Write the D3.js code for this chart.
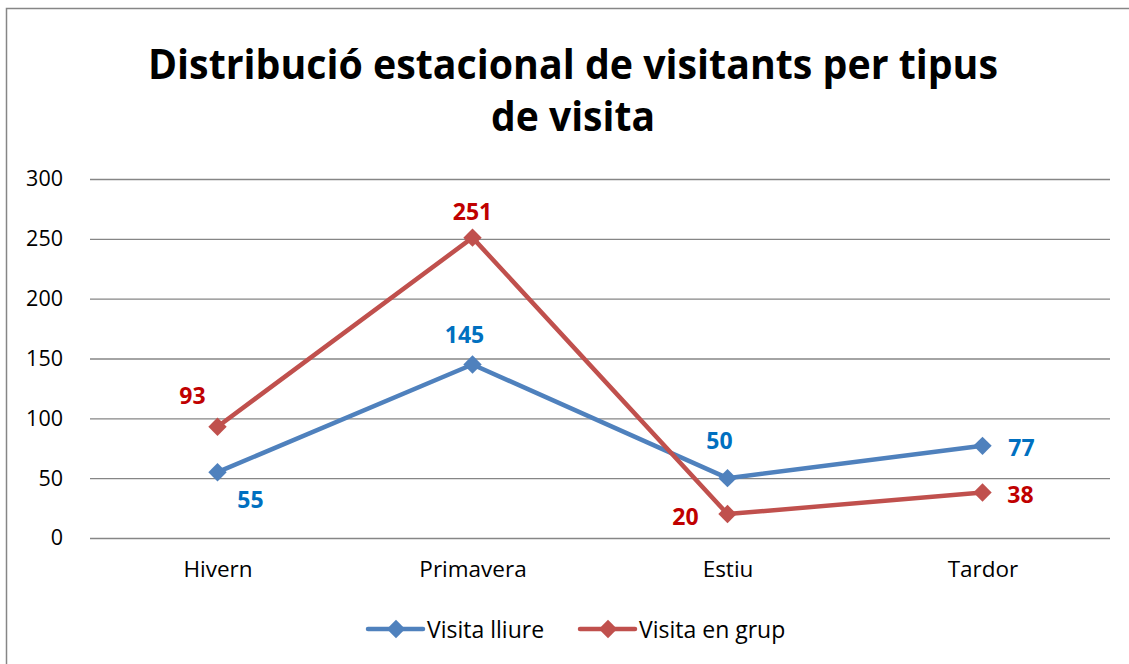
<!DOCTYPE html>
<html><head><meta charset="utf-8">
<script src="https://cdn.jsdelivr.net/npm/d3@7"></script>
<style>
html,body{margin:0;padding:0;background:#fff;}
svg{display:block;font-family:"Open Sans",sans-serif;}
</style></head>
<body><svg id="c" width="1129" height="664"></svg>
<script>
const categories = ["Hivern","Primavera","Estiu","Tardor"];
const seriesNames = ["Visita lliure","Visita en grup"];
const lliure = [55,145,50,77];
const grup = [93,251,20,38];
const yTicks = [0,50,100,150,200,250,300];
const titleLines = ["Distribució estacional de visitants per tipus","de visita"];

const lineColors = ["#4F81BD","#C0504D"];
const labelColors = ["#0070C0","#C00000"];
// label placement per point: [dx, dy]
const labelPos = [
  [[33,27],[-8,-30],[-8,-38],[39,1]],
  [[-25,-32],[0,-27],[-42,2],[38,1]]
];

const svg = d3.select("#c");
svg.append("rect").attr("x",6.5).attr("y",8.5).attr("width",1140).attr("height",700)
  .attr("fill","#fff").attr("stroke","#868686").attr("stroke-width",1.5);

const x = d3.scalePoint().domain(categories).range([90,1110]).padding(0.5);
const y = d3.scaleLinear().domain([0,300]).range([538,179]);

// title
const titleW = [850,164];
const titleY = [79,131];
titleLines.forEach((l,i)=>svg.append("text").attr("text-anchor","middle").attr("font-weight","bold")
  .attr("font-size",42).attr("fill","#000").attr("x",573).attr("y",titleY[i])
  .attr("textLength",titleW[i]).attr("lengthAdjust","spacingAndGlyphs").text(l));

// gridlines
const yAxis = d3.axisLeft(y).tickValues(yTicks).tickSize(-1020).tickPadding(27);
const ga = svg.append("g").attr("transform","translate(90,0)").call(yAxis);
ga.select(".domain").remove();
ga.selectAll(".tick line").attr("stroke","#868686").attr("stroke-width",1.3);
ga.selectAll(".tick text").attr("font-size",21.5).attr("fill","#000").attr("font-family","'Open Sans',sans-serif");

const xAxis = d3.axisBottom(x).tickSize(0).tickPadding(23);
const gx = svg.append("g").attr("transform","translate(0,538)").call(xAxis);
gx.select(".domain").remove();
gx.selectAll(".tick text").attr("font-size",22.5).attr("fill","#000").attr("font-family","'Open Sans',sans-serif");

const line = d3.line().x((d,i)=>x(categories[i])).y(d=>y(d));

[lliure, grup].forEach((vals,si)=>{
  svg.append("path").attr("d",line(vals)).attr("fill","none")
    .attr("stroke",lineColors[si]).attr("stroke-width",4.5).attr("stroke-linejoin","round");
  vals.forEach((v,i)=>{
    svg.append("rect").attr("x",-6.5).attr("y",-6.5).attr("width",13).attr("height",13)
      .attr("transform",`translate(${x(categories[i])},${y(v)}) rotate(45)`)
      .attr("fill",lineColors[si]);
    svg.append("text").attr("x",x(categories[i])+labelPos[si][i][0]).attr("y",y(v)+labelPos[si][i][1])
      .attr("text-anchor","middle").attr("dominant-baseline","central")
      .attr("font-weight","bold").attr("font-size",23).attr("fill",labelColors[si]).text(v);
  });
});

// legend
const legX = [368,580];
seriesNames.forEach((n,si)=>{
  const g = svg.append("g").attr("transform",`translate(${legX[si]},629)`);
  g.append("line").attr("x1",0).attr("x2",55).attr("stroke",lineColors[si]).attr("stroke-width",4.5).attr("stroke-linecap","round");
  g.append("rect").attr("x",-6.5).attr("y",-6.5).attr("width",13).attr("height",13)
    .attr("transform","translate(28,0) rotate(45)").attr("fill",lineColors[si]);
  g.append("text").attr("x",59).attr("y",0).attr("dominant-baseline","central")
    .attr("font-size",23).attr("fill","#000").text(n);
});
</script></body></html>
